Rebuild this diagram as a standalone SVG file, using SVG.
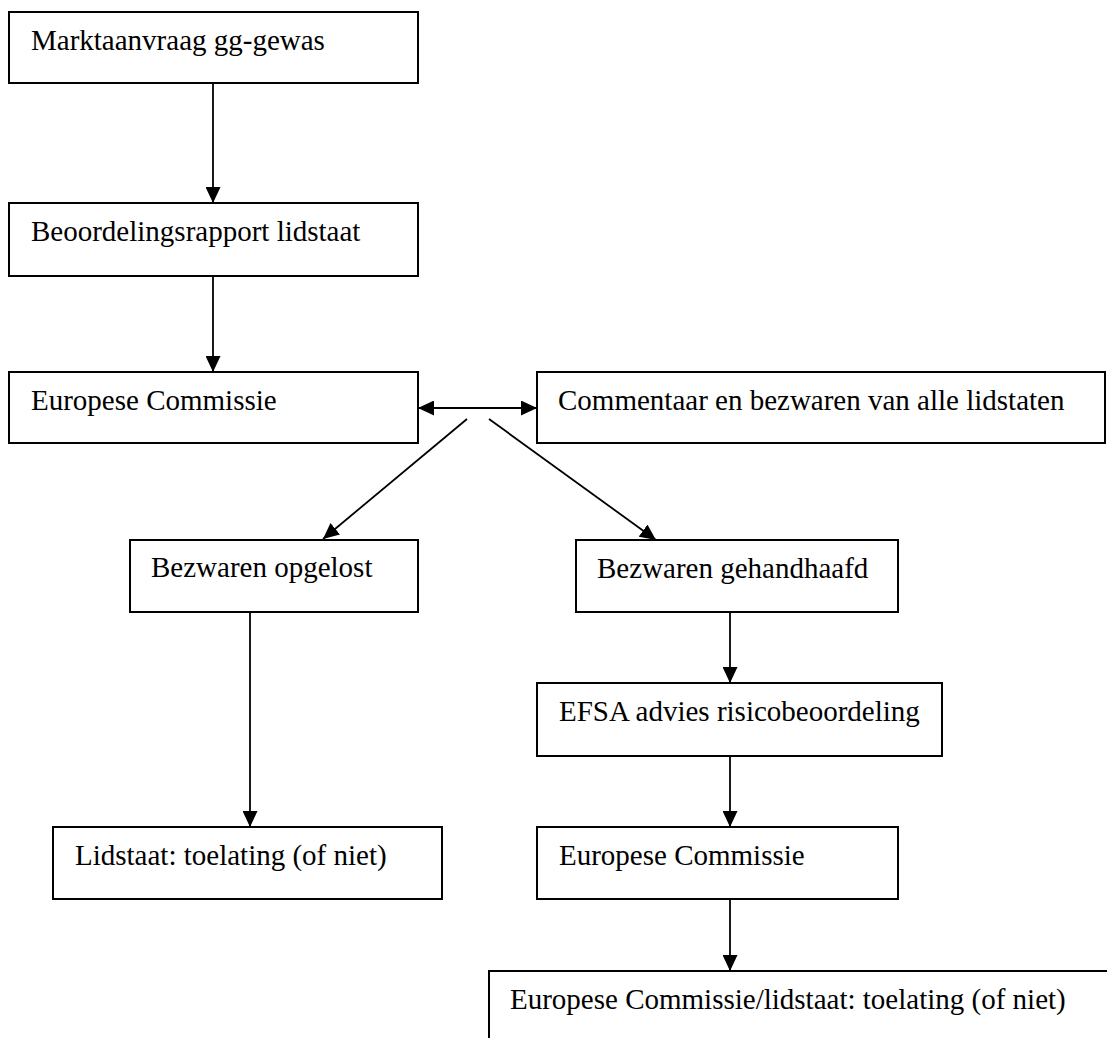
<svg xmlns="http://www.w3.org/2000/svg" width="1107" height="1038" viewBox="0 0 1107 1038">
<style>
.box{fill:#fff;stroke:#000;stroke-width:2}
.lbl{font-family:"Liberation Serif","Times New Roman",serif;font-size:29px;fill:#000}
.con{stroke:#000;stroke-width:1.8;fill:none}
</style>
<defs>
<marker id="ah" markerUnits="userSpaceOnUse" markerWidth="17" markerHeight="15" viewBox="0 0 17 15" refX="16" refY="7.5" orient="auto-start-reverse">
<path d="M0,0 L16,7.5 L0,15 Z" fill="#000"/>
</marker>
</defs>
<rect width="1107" height="1038" fill="#fff"/>
<g id="connectors">
<line class="con" x1="213" y1="83" x2="213" y2="203" marker-end="url(#ah)"/>
<line class="con" x1="213" y1="276" x2="213" y2="372" marker-end="url(#ah)"/>
<line class="con" x1="418" y1="408" x2="537" y2="408" marker-start="url(#ah)" marker-end="url(#ah)"/>
<line class="con" x1="467" y1="419" x2="323" y2="539" marker-end="url(#ah)"/>
<line class="con" x1="489" y1="419" x2="656" y2="540" marker-end="url(#ah)"/>
<line class="con" x1="250" y1="612" x2="250" y2="827" marker-end="url(#ah)"/>
<line class="con" x1="730" y1="612" x2="730" y2="683" marker-end="url(#ah)"/>
<line class="con" x1="730" y1="756" x2="730" y2="827" marker-end="url(#ah)"/>
<line class="con" x1="730" y1="899" x2="730" y2="971" marker-end="url(#ah)"/>
</g>
<g id="n1"><rect class="box" x="9" y="12" width="409" height="71"/><text class="lbl" x="31" y="50">Marktaanvraag gg-gewas</text></g>
<g id="n2"><rect class="box" x="9" y="203" width="409" height="73"/><text class="lbl" x="31" y="241">Beoordelingsrapport lidstaat</text></g>
<g id="n3"><rect class="box" x="9" y="372" width="409" height="71"/><text class="lbl" x="31" y="410">Europese Commissie</text></g>
<g id="n4"><rect class="box" x="537" y="372" width="568" height="71"/><text class="lbl" x="558" y="410">Commentaar en bezwaren van alle lidstaten</text></g>
<g id="n5"><rect class="box" x="130" y="540" width="288" height="72"/><text class="lbl" x="151" y="577">Bezwaren opgelost</text></g>
<g id="n6"><rect class="box" x="576" y="540" width="322" height="72"/><text class="lbl" x="597" y="578">Bezwaren gehandhaafd</text></g>
<g id="n7"><rect class="box" x="537" y="683" width="405" height="73"/><text class="lbl" x="559" y="721">EFSA advies risicobeoordeling</text></g>
<g id="n8"><rect class="box" x="53" y="827" width="389" height="72"/><text class="lbl" x="75" y="865">Lidstaat: toelating (of niet)</text></g>
<g id="n9"><rect class="box" x="537" y="827" width="361" height="72"/><text class="lbl" x="559" y="865">Europese Commissie</text></g>
<g id="n10"><rect class="box" x="489" y="971" width="640" height="90"/><text class="lbl" x="510" y="1009">Europese Commissie/lidstaat: toelating (of niet)</text></g>
</svg>
